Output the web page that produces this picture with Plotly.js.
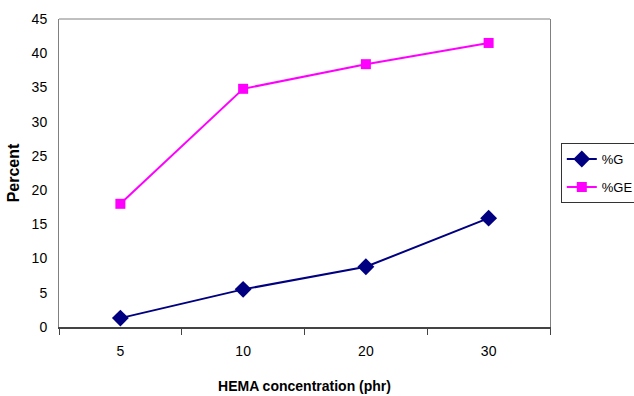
<!DOCTYPE html>
<html>
<head>
<meta charset="utf-8">
<script src="https://cdn.plot.ly/plotly-3.0.1.min.js"></script>
<style>html,body{margin:0;padding:0;background:#fff;}#chart{width:634px;height:396px;}</style>
</head>
<body>
<div id="chart"></div>
<script>
const categories = ['5', '10', '20', '30'];
const seriesG = [1.3, 5.5, 8.8, 15.9];
const seriesGE = [18.0, 34.8, 38.4, 41.5];
const yTicks = [0, 5, 10, 15, 20, 25, 30, 35, 40, 45];

const FONT = '"Liberation Sans", Arial, sans-serif';

const traces = [
  {
    x: categories, y: seriesG, name: '%G', type: 'scatter', mode: 'lines+markers',
    legendgroup: 'g', 
    line: {color: '#000080', width: 2},
    marker: {symbol: 'diamond', size: 13, color: '#000080'}
  },
  {
    x: categories, y: seriesGE, name: '%GE', type: 'scatter', mode: 'lines+markers',
    legendgroup: 'ge',
    line: {color: '#FF00FF', width: 2},
    marker: {symbol: 'square', size: 10, color: '#FF00FF'}
  }
];

const layout = {
  width: 634, height: 396,
  margin: {l: 59, r: 84, t: 19, b: 69, autoexpand: false},
  paper_bgcolor: '#fff', plot_bgcolor: '#fff',
  font: {family: FONT, size: 14, color: '#000'},
  showlegend: true,
  legend: {
    x: 1.022, y: 0.597, xanchor: 'left', yanchor: 'top',
    bordercolor: '#333', borderwidth: 1, bgcolor: '#fff',
    font: {family: FONT, size: 13}, itemwidth: 30,
    traceorder: 'grouped', tracegroupgap: 8
  },
  xaxis: {
    type: 'category', range: [-0.5, 3.5],
    tickson: 'boundaries', ticks: 'outside', ticklen: 6, tickcolor: '#444',
    showgrid: false, zeroline: false,
    showline: true, linecolor: '#444', linewidth: 1.5, mirror: false,
    tickfont: {family: FONT, size: 14}, ticklabelstandoff: 11,
    title: {text: '<b>HEMA concentration (phr)</b>', font: {family: FONT, size: 14}, standoff: 23}
  },
  yaxis: {
    range: [0, 45], tickvals: yTicks, ticktext: yTicks.map(String),
    ticks: '', showgrid: false, zeroline: false,
    showline: true, linecolor: '#808080', linewidth: 1, mirror: true,
    tickfont: {family: FONT, size: 14}, ticklabelstandoff: 8,
    title: {text: '<b>Percent</b>', font: {family: FONT, size: 16}, standoff: 8}
  },
  shapes: [
    {type: 'line', xref: 'paper', yref: 'paper', x0: 0, x1: 1, y0: 1, y1: 1,
     line: {color: '#808080', width: 1}}
  ]
};

Plotly.newPlot('chart', traces, layout, {displayModeBar: false, staticPlot: true});
</script>
</body>
</html>
